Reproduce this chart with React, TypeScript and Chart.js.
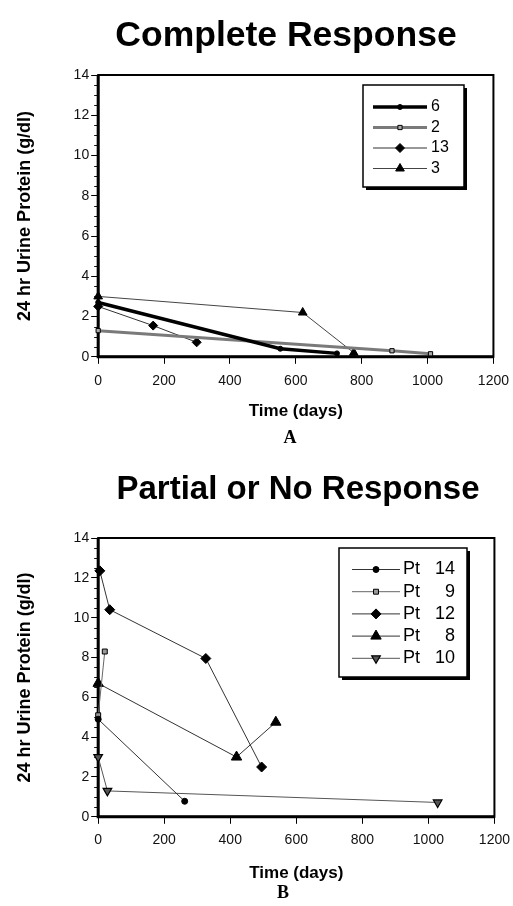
import React, { useEffect, useRef } from "react";
import { Chart, registerables } from "chart.js";
import { drawPoint } from "chart.js/helpers";

Chart.register(...registerables);

const FONT = "'Liberation Sans', Arial, Helvetica, sans-serif";
const SERIF = "'Liberation Serif', 'Times New Roman', serif";

// ---- axis ranges (shared) ----
const X_MIN = 0;
const X_MAX = 1200;
const X_STEP = 200;
const Y_MIN = 0;
const Y_MAX = 14;
const Y_STEP = 2;
const Y_MINOR = 0.5;

const X_TITLE = "Time (days)";
const Y_TITLE = "24 hr Urine Protein (g/dl)";

// ---- Panel A: Complete Response ----
const titleA = "Complete Response";
const letterA = "A";
const labelsA = ["6", "2", "13", "3"];
const daysA6 = [0, 553, 725];
const valsA6 = [2.7, 0.4, 0.17];
const daysA2 = [0, 892, 1009];
const valsA2 = [1.3, 0.3, 0.15];
const daysA13 = [0, 167, 299];
const valsA13 = [2.5, 1.55, 0.72];
const daysA3 = [0, 621, 776];
const valsA3 = [3.0, 2.2, 0.2];

// ---- Panel B: Partial or No Response ----
const titleB = "Partial or No Response";
const letterB = "B";
const labelsB = ["Pt 14", "Pt 9", "Pt 12", "Pt 8", "Pt 10"];
const daysB14 = [0, 262];
const valsB14 = [4.9, 0.78];
const daysB9 = [0, 20];
const valsB9 = [5.1, 8.3];
const daysB12 = [5, 35, 326, 495];
const valsB12 = [12.35, 10.4, 7.95, 2.5];
const daysB8 = [0, 419, 538];
const valsB8 = [6.7, 3.0, 4.75];
const daysB10 = [0, 28, 1028];
const valsB10 = [3.0, 1.3, 0.72];

const pts = (d: number[], v: number[]) => d.map((x, i) => ({ x, y: v[i] }));

const CANVAS_W = 518;

const figurePlugin = {
  id: "figure",
  beforeDatasetsDraw(chart: any, _args: any, opts: any) {
    const { ctx, chartArea: a, scales } = chart;
    const ys = scales.y;
    ctx.save();
    ctx.strokeStyle = "#111";
    ctx.lineWidth = 1;
    const n = Math.round((Y_MAX - Y_MIN) / Y_MINOR);
    for (let i = 0; i <= n; i++) {
      const v = Y_MIN + i * Y_MINOR;
      if (Math.abs(v / Y_STEP - Math.round(v / Y_STEP)) < 1e-6) continue;
      const py = Math.round(ys.getPixelForValue(v)) + 0.5;
      ctx.beginPath();
      ctx.moveTo(a.left - opts.minorLen, py);
      ctx.lineTo(a.left, py);
      ctx.stroke();
    }
    ctx.strokeStyle = "#000";
    ctx.lineWidth = 2;
    ctx.strokeRect(a.left, a.top, a.right - a.left, a.bottom - a.top);
    ctx.lineWidth = 3;
    ctx.beginPath();
    ctx.moveTo(a.left, a.top);
    ctx.lineTo(a.left, a.bottom);
    ctx.lineTo(a.right, a.bottom);
    ctx.stroke();
    ctx.restore();
  },
  afterDraw(chart: any, _args: any, opts: any) {
    const { ctx } = chart;
    ctx.save();
    // title
    ctx.fillStyle = "#000";
    ctx.font = `bold ${opts.titleSize}px ${FONT}`;
    ctx.textAlign = "center";
    ctx.textBaseline = "alphabetic";
    ctx.fillText(opts.title, opts.titleX, opts.titleY);
    // letter
    ctx.font = `bold ${opts.letterSize}px ${SERIF}`;
    ctx.textBaseline = "middle";
    ctx.fillText(opts.letter, opts.letterX, opts.letterY);
    // legend box
    const L = opts.legend;
    ctx.fillStyle = "#000";
    ctx.fillRect(L.x + 3, L.y + 3, L.w, L.h);
    ctx.fillStyle = "#fff";
    ctx.fillRect(L.x, L.y, L.w, L.h);
    ctx.strokeStyle = "#000";
    ctx.lineWidth = 1.5;
    ctx.strokeRect(L.x, L.y, L.w, L.h);
    chart.data.datasets.forEach((ds: any, i: number) => {
      const y = L.firstY + i * L.rowH;
      ctx.strokeStyle = ds.borderColor;
      ctx.lineWidth = ds.borderWidth;
      ctx.setLineDash([]);
      ctx.beginPath();
      ctx.moveTo(L.lineX1, y);
      ctx.lineTo(L.lineX2, y);
      ctx.stroke();
      ctx.fillStyle = ds.pointBackgroundColor;
      ctx.strokeStyle = ds.pointBorderColor;
      ctx.lineWidth = ds.pointBorderWidth;
      drawPoint(
        ctx,
        {
          pointStyle: ds.pointStyle,
          radius: ds.pointRadius,
          rotation: ds.pointRotation || 0,
          borderWidth: ds.pointBorderWidth,
        } as any,
        (L.lineX1 + L.lineX2) / 2,
        y
      );
      ctx.fillStyle = "#000";
      ctx.font = `${L.fontSize}px ${FONT}`;
      ctx.textBaseline = "middle";
      const parts = String(ds.label).split(" ");
      if (parts.length > 1) {
        ctx.textAlign = "left";
        ctx.fillText(parts[0], L.textX, y);
        ctx.textAlign = "right";
        ctx.fillText(parts.slice(1).join(" "), L.numRight, y);
      } else {
        ctx.textAlign = "left";
        ctx.fillText(ds.label, L.textX, y);
      }
    });
    ctx.restore();
  },
};

function makeScales(labelPad: number, titleTop: number) {
  return {
    x: {
      type: "linear",
      min: X_MIN,
      max: X_MAX,
      border: { display: false },
      grid: { drawOnChartArea: false, drawTicks: true, tickLength: 7, tickColor: "#000", tickWidth: 1 },
      ticks: {
        stepSize: X_STEP,
        color: "#111",
        padding: labelPad,
        font: { size: 14, family: FONT },
        callback: (v: any) => String(v),
      },
      title: {
        display: true,
        text: X_TITLE,
        color: "#000",
        font: { size: 17, weight: "bold", family: FONT },
        padding: { top: titleTop, bottom: 4 },
      },
    },
    y: {
      min: Y_MIN,
      max: Y_MAX,
      border: { display: false },
      grid: { drawOnChartArea: false, drawTicks: true, tickLength: 7, tickColor: "#000", tickWidth: 1 },
      ticks: {
        stepSize: Y_STEP,
        color: "#111",
        padding: 2,
        font: { size: 14, family: FONT },
        callback: (v: any) => String(v),
      },
      title: {
        display: true,
        text: Y_TITLE,
        color: "#000",
        font: { size: 18, weight: "bold", family: FONT },
        padding: { top: 7, bottom: 36 },
      },
    },
  };
}

function ChartA() {
  const ref = useRef<HTMLCanvasElement | null>(null);
  useEffect(() => {
    const base = { clip: false, tension: 0, fill: false, pointBorderColor: "#000" };
    const chart = new Chart(ref.current as HTMLCanvasElement, {
      type: "line",
      data: {
        datasets: [
          { ...base, label: labelsA[0], data: pts(daysA6, valsA6), borderColor: "#000", borderWidth: 3.5, pointStyle: "circle", pointRadius: 2.5, pointBackgroundColor: "#000", pointBorderWidth: 1 },
          { ...base, label: labelsA[1], data: pts(daysA2, valsA2), borderColor: "#7a7a7a", borderWidth: 3, pointStyle: "rect", pointRadius: 3, pointBackgroundColor: "#aaa", pointBorderWidth: 1 },
          { ...base, label: labelsA[2], data: pts(daysA13, valsA13), borderColor: "#333", borderWidth: 1, pointStyle: "rectRot", pointRadius: 4.5, pointBackgroundColor: "#000", pointBorderWidth: 1 },
          { ...base, label: labelsA[3], data: pts(daysA3, valsA3), borderColor: "#444", borderWidth: 1, pointStyle: "triangle", pointRadius: 5, pointBackgroundColor: "#000", pointBorderWidth: 1 },
        ] as any,
      },
      options: {
        responsive: false,
        animation: false,
        layout: { padding: { top: 75, left: 7, right: 15, bottom: 27 } },
        plugins: {
          legend: { display: false },
          tooltip: { enabled: false },
          figure: {
            title: titleA, titleSize: 35.5, titleX: 286, titleY: 46,
            letter: letterA, letterSize: 18, letterX: 290, letterY: 438,
            minorLen: 4,
            legend: { x: 363, y: 85, w: 101, h: 102, firstY: 107, rowH: 20.5, lineX1: 373, lineX2: 427, textX: 431, numRight: 0, fontSize: 16 },
          },
        } as any,
        scales: makeScales(9, 3) as any,
      },
      plugins: [figurePlugin],
    });
    return () => chart.destroy();
  }, []);
  return <canvas ref={ref} width={CANVAS_W} height={453} style={{ position: "absolute", left: 0, top: 0, width: CANVAS_W, height: 453 }} />;
}

function ChartB() {
  const ref = useRef<HTMLCanvasElement | null>(null);
  useEffect(() => {
    const base = { clip: false, tension: 0, fill: false, pointBorderColor: "#000", borderColor: "#333", borderWidth: 1 };
    const chart = new Chart(ref.current as HTMLCanvasElement, {
      type: "line",
      data: {
        datasets: [
          { ...base, label: labelsB[0], data: pts(daysB14, valsB14), pointStyle: "circle", pointRadius: 3, pointBackgroundColor: "#000", pointBorderWidth: 1 },
          { ...base, label: labelsB[1], data: pts(daysB9, valsB9), borderColor: "#666", pointStyle: "rect", pointRadius: 3.5, pointBackgroundColor: "#999", pointBorderWidth: 1 },
          { ...base, label: labelsB[2], data: pts(daysB12, valsB12), pointStyle: "rectRot", pointRadius: 5, pointBackgroundColor: "#000", pointBorderWidth: 1 },
          { ...base, label: labelsB[3], data: pts(daysB8, valsB8), pointStyle: "triangle", pointRadius: 6, pointBackgroundColor: "#000", pointBorderWidth: 1 },
          { ...base, label: labelsB[4], data: pts(daysB10, valsB10), borderColor: "#555", pointStyle: "triangle", pointRotation: 180, pointRadius: 5, pointBackgroundColor: "#555", pointBorderWidth: 1.2 },
        ] as any,
      },
      options: {
        responsive: false,
        animation: false,
        layout: { padding: { top: 75, left: 7, right: 15, bottom: 18 } },
        plugins: {
          legend: { display: false },
          tooltip: { enabled: false },
          figure: {
            title: titleB, titleSize: 33, titleX: 298, titleY: 36,
            letter: letterB, letterSize: 18, letterX: 283, letterY: 430,
            minorLen: 4,
            legend: { x: 339, y: 85, w: 128, h: 129, firstY: 106.5, rowH: 22.2, lineX1: 352, lineX2: 400, textX: 403, numRight: 455, fontSize: 18 },
          },
        } as any,
        scales: makeScales(8, 7) as any,
      },
      plugins: [figurePlugin],
    });
    return () => chart.destroy();
  }, []);
  return <canvas ref={ref} width={CANVAS_W} height={443} style={{ position: "absolute", left: 0, top: 463, width: CANVAS_W, height: 443 }} />;
}

export default function App() {
  return (
    <div style={{ position: "absolute", left: 0, top: 0, width: 513, height: 906, overflow: "hidden", background: "#fff" }}>
      <ChartA />
      <ChartB />
    </div>
  );
}
